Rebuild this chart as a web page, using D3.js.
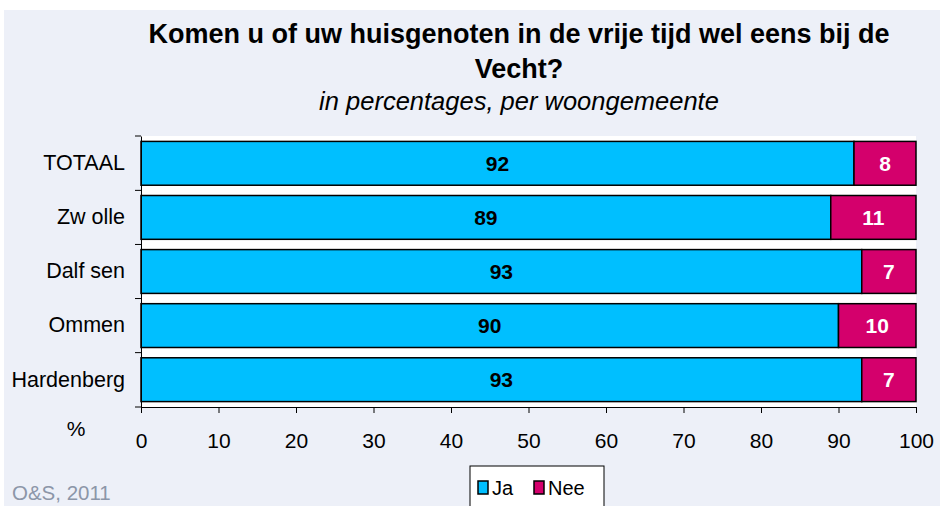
<!DOCTYPE html>
<html>
<head>
<meta charset="utf-8">
<script src="https://cdn.jsdelivr.net/npm/d3@7"></script>
<style>
  body { margin: 0; background: #fff; }
  svg { display: block; font-family: "Liberation Sans", Arial, sans-serif; }
</style>
</head>
<body>
<div id="chart"></div>
<script>
const categories = ["TOTAAL", "Zwolle", "Dalfsen", "Ommen", "Hardenberg"];
const catLabels = ["TOTAAL", "Zw olle", "Dalf sen", "Ommen", "Hardenberg"];
const ja = [92, 89, 93, 90, 93];
const nee = [8, 11, 7, 10, 7];
const series = ["Ja", "Nee"];
const colors = ["#00BFFF", "#D4006C"];
const xTicks = [0, 10, 20, 30, 40, 50, 60, 70, 80, 90, 100];

const W = 940, H = 506;
const margin = { top: 136, right: 24, bottom: 99, left: 141 };

const svg = d3.select("#chart").append("svg")
    .attr("width", W)
    .attr("height", H);

// panel background
svg.append("rect")
    .attr("x", 4).attr("y", 10)
    .attr("width", W - 4).attr("height", H - 10)
    .attr("fill", "#EDF0F8");

const x = d3.scaleLinear().domain([0, 100]).range([margin.left, W - margin.right]);
const y = d3.scaleBand().domain(categories).range([margin.top, H - margin.bottom]).paddingInner(0.19).paddingOuter(0.1);

// plot area
svg.append("rect")
    .attr("x", x(0)).attr("y", margin.top)
    .attr("width", x(100) - x(0)).attr("height", H - margin.bottom - margin.top)
    .attr("fill", "#fff");

// titles
svg.append("text")
    .attr("x", 519).attr("y", 43)
    .attr("text-anchor", "middle")
    .attr("font-size", 27).attr("font-weight", "bold")
    .text("Komen u of uw huisgenoten in de vrije tijd wel eens bij de");
svg.append("text")
    .attr("x", 519).attr("y", 78)
    .attr("text-anchor", "middle")
    .attr("font-size", 27).attr("font-weight", "bold")
    .text("Vecht?");
svg.append("text")
    .attr("x", 519).attr("y", 110)
    .attr("text-anchor", "middle")
    .attr("font-size", 25.5).attr("font-style", "italic")
    .text("in percentages, per woongemeente");

const stacked = categories.map((c, i) => ({ cat: c, vals: [ja[i], nee[i]] }));

const rows = svg.selectAll(".row")
    .data(stacked)
    .enter()
    .append("g")
    .attr("class", "row");

rows.each(function (d) {
    const g = d3.select(this);
    let start = 0;
    d.vals.forEach((v, k) => {
        g.append("rect")
            .attr("x", x(start))
            .attr("y", y(d.cat))
            .attr("width", x(start + v) - x(start))
            .attr("height", y.bandwidth())
            .attr("fill", colors[k])
            .attr("stroke", "#000")
            .attr("stroke-width", 1.5);
        g.append("text")
            .attr("x", x(start + v / 2))
            .attr("y", y(d.cat) + y.bandwidth() / 2)
            .attr("dy", "0.36em")
            .attr("text-anchor", "middle")
            .attr("font-size", 21).attr("font-weight", "bold")
            .attr("fill", k === 0 ? "#000" : "#fff")
            .text(v);
        start += v;
    });
});

// y axis
const yAxis = svg.append("g")
    .attr("transform", `translate(${x(0)},0)`)
    .call(d3.axisLeft(y).tickSize(0).tickPadding(16).tickFormat((d, i) => catLabels[i]));
yAxis.select(".domain").attr("stroke", "#000");
yAxis.selectAll("text").attr("font-size", 21.5).attr("fill", "#000").style("font-family", "Liberation Sans, Arial, sans-serif");
// y ticks between categories
const yTickPos = categories.map(c => y(c) - (y.step() - y.bandwidth()) / 2);
yTickPos.push(H - margin.bottom);
yTickPos[0] = margin.top;
svg.selectAll(".ytick")
    .data(yTickPos)
    .enter()
    .append("line")
    .attr("x1", x(0) - 6).attr("x2", x(0))
    .attr("y1", d => d).attr("y2", d => d)
    .attr("stroke", "#000");

// x axis
const xAxis = svg.append("g")
    .attr("transform", `translate(0,${H - margin.bottom})`)
    .call(d3.axisBottom(x).tickValues(xTicks).tickSize(6).tickPadding(20));
xAxis.select(".domain").attr("stroke", "#000");
xAxis.selectAll("text").attr("font-size", 21).attr("fill", "#000").style("font-family", "Liberation Sans, Arial, sans-serif");

svg.append("text")
    .attr("x", 76).attr("y", 436)
    .attr("text-anchor", "middle")
    .attr("font-size", 21)
    .text("%");

// legend
const leg = svg.append("g").attr("transform", "translate(470,466)");
leg.append("rect")
    .attr("width", 134).attr("height", 44)
    .attr("fill", "#fff").attr("stroke", "#000");
series.forEach((s, i) => {
    const lx = i === 0 ? 8 : 64;
    leg.append("rect")
        .attr("x", lx).attr("y", 15)
        .attr("width", 10).attr("height", 13)
        .attr("fill", colors[i]).attr("stroke", "#000").attr("stroke-width", 1.5);
    leg.append("text")
        .attr("x", lx + 14).attr("y", 29)
        .attr("font-size", 20)
        .text(s);
});

svg.append("text")
    .attr("x", 12).attr("y", 500)
    .attr("font-size", 20.5)
    .attr("fill", "#8C96A8")
    .text("O&S, 2011");
</script>
</body>
</html>
